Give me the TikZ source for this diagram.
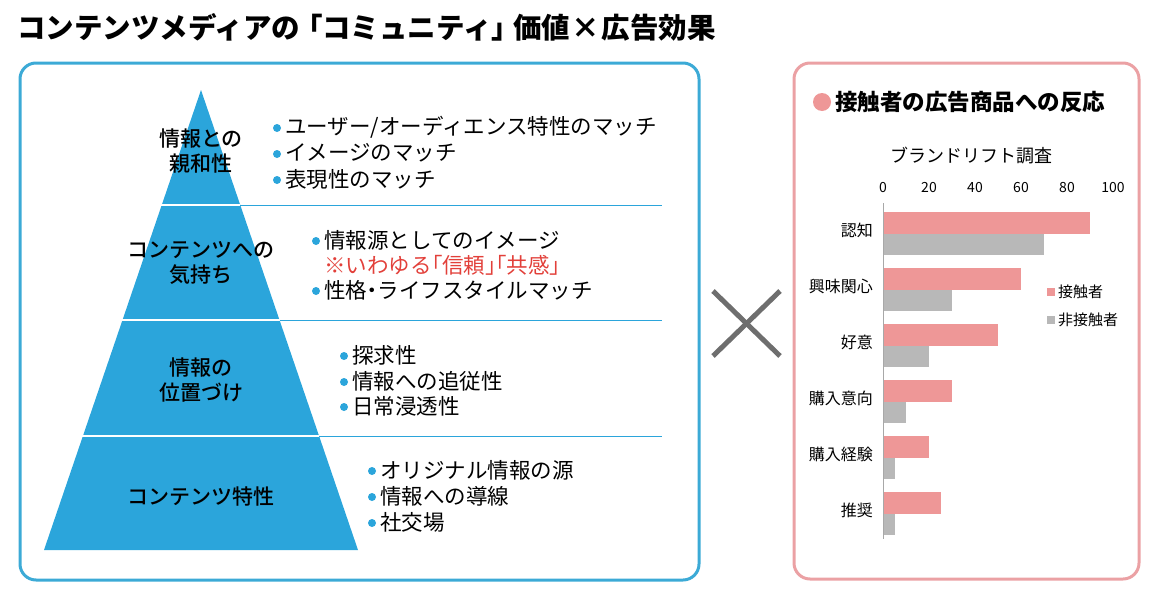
\documentclass[tikz,border=0pt]{standalone}
\usepackage{fontspec}
\setmainfont{Noto Sans CJK JP}
\newfontfamily\paltfont[RawFeature=+palt]{Noto Sans CJK JP}
\newfontfamily\medfont{Noto Sans CJK JP Medium}
\newcommand{\hw}[1]{{\paltfont #1}}
\definecolor{pyr}{HTML}{2BA5DB}
\definecolor{boxblue}{HTML}{3CAAD6}
\definecolor{boxpink}{HTML}{EBA1A4}
\definecolor{barpink}{HTML}{EE9797}
\definecolor{bargray}{HTML}{B8B8B8}
\definecolor{redtxt}{HTML}{E2403A}
\definecolor{xgray}{HTML}{6E6E6E}
\definecolor{axgray}{HTML}{A8A8A8}
\tikzset{
  tierlabel/.style={font=\fontsize{21}{25}\selectfont\medfont, align=center, inner sep=0},
  bullettext/.style={font=\fontsize{21.5}{25}\selectfont, anchor=west, inner sep=0},
  bulletdot/.style={circle, fill=pyr, minimum size=8pt, inner sep=0},
  catlabel/.style={font=\fontsize{16}{18}\selectfont, anchor=east, inner sep=0},
  ticklabel/.style={font=\fontsize{14}{16}\selectfont, inner sep=0},
  legtext/.style={font=\fontsize{15}{17}\selectfont, anchor=west, inner sep=0},
}
\begin{document}
\begin{tikzpicture}[x=1pt,y=-1pt]
\useasboundingbox (0,0) rectangle (1151,589);
% title
\node[anchor=west, inner sep=0, font=\fontsize{28.5}{32}\selectfont\bfseries] (title) at (17,27) {コンテンツメディアの\hspace{8pt}\hw{「}コミュニティ\hw{」}\hspace{7pt}価値\makebox[32pt][c]{×}広告効果};
% frames
\draw[boxblue, line width=3, rounded corners=16] (20,63) rectangle (699,580);
\draw[boxpink, line width=3, rounded corners=16] (794,63) rectangle (1139,579);
% pyramid
\coordinate (apex) at (201,90);
\coordinate (bl) at (44,550);
\coordinate (br) at (358,550);
\fill[pyr] (apex) -- (br) -- (bl) -- cycle;
\foreach \yy/\xr in {205/240.2, 320/279.5, 436/319.1}{
  \draw[white, line width=1.6] (40,\yy) -- (\xr,\yy);
  \draw[pyr, line width=0.9] (\xr,\yy) -- (662,\yy);
}
% tier labels
\node[tierlabel] (t1) at (201,151) {情報との\\親和性};
\node[tierlabel] (t2) at (201,263) {コンテンツへの\\気持ち};
\node[tierlabel] (t3) at (201,380) {情報の\\位置づけ};
\node[tierlabel] (t4) at (201,497) {コンテンツ特性};
% bullets tier 1
\node[bulletdot] (d11) at (277,128) {};
\node[bullettext] (b11) at (285,127) {ユーザー/オーディエンス特性のマッチ};
\node[bulletdot] (d12) at (277,154) {};
\node[bullettext] (b12) at (285,153) {イメージのマッチ};
\node[bulletdot] (d13) at (277,180) {};
\node[bullettext] (b13) at (285,179) {表現性のマッチ};
% tier 2
\node[bulletdot] (d21) at (316,241) {};
\node[bullettext] (b21) at (324,240) {情報源としてのイメージ};
\node[bullettext, text=redtxt] (b22) at (324,265) {※いわゆる\hw{「}信頼\hw{」「}共感\hw{」}};
\node[bulletdot] (d23) at (316,291) {};
\node[bullettext] (b23) at (324,290) {性格\hw{・}ライフスタイルマッチ};
% tier 3
\node[bulletdot] (d31) at (344,356) {};
\node[bullettext] (b31) at (352,355) {探求性};
\node[bulletdot] (d32) at (344,382) {};
\node[bullettext] (b32) at (352,381) {情報への追従性};
\node[bulletdot] (d33) at (344,407) {};
\node[bullettext] (b33) at (352,406) {日常浸透性};
% tier 4
\node[bulletdot] (d41) at (372,471) {};
\node[bullettext] (b41) at (380,470) {オリジナル情報の源};
\node[bulletdot] (d42) at (372,497) {};
\node[bullettext] (b42) at (380,496) {情報への導線};
\node[bulletdot] (d43) at (372,523) {};
\node[bullettext] (b43) at (380,522) {社交場};
% cross
\draw[xgray, line width=5] (713,291) -- (780,356);
\draw[xgray, line width=5] (780,291) -- (713,356);
% right panel heading
\fill[barpink] (822,102) circle (9);
\node[anchor=west, inner sep=0, font=\fontsize{22.5}{26}\selectfont\bfseries] (head) at (835,102) {接触者の広告商品への反応};
\node[font=\fontsize{18}{20}\selectfont, inner sep=0] (ctitle) at (971,156) {ブランドリフト調査};
% axis ticks
\foreach \v in {0,20,40,60,80,100}{
  \node[ticklabel] (tick\v) at ({883+2.3*\v},188) {\v};
}
% bars
\foreach \i/\p/\g/\lab in {0/90/70/認知, 1/60/30/興味関心, 2/50/20/好意, 3/30/10/購入意向, 4/20/5/購入経験, 5/25/5/推奨}{
  \fill[barpink] (883,{212+56*\i}) rectangle ({883+2.3*\p},{233.5+56*\i});
  \fill[bargray] (883,{233.5+56*\i}) rectangle ({883+2.3*\g},{255+56*\i});
  \node[catlabel] (cat\i) at (873,{230+56*\i}) {\lab};
}
\draw[axgray, line width=1] (883,203) -- (883,539);
% legend
\fill[barpink] (1047,288) rectangle (1055,296);
\node[legtext] (l1) at (1058,292) {接触者};
\fill[bargray] (1047,316) rectangle (1055,324);
\node[legtext] (l2) at (1058,320) {非接触者};
\end{tikzpicture}
\end{document}
